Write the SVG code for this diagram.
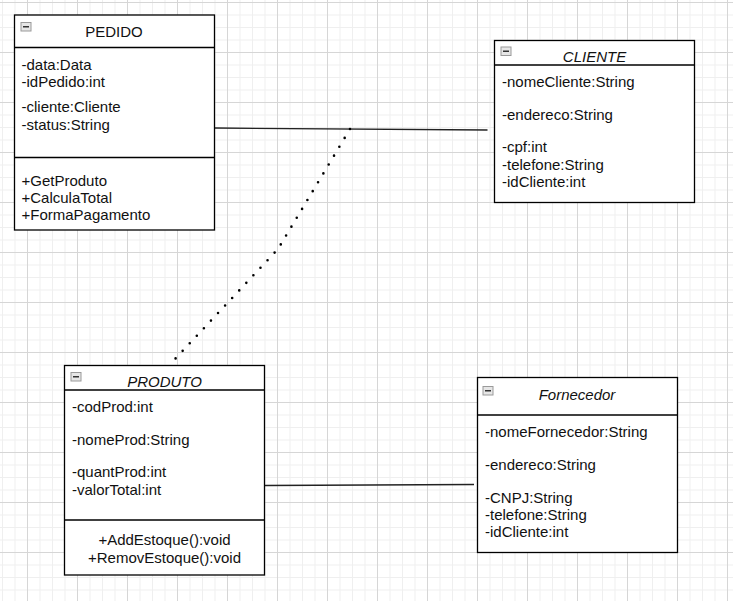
<svg xmlns="http://www.w3.org/2000/svg" width="733" height="601" viewBox="0 0 733 601">
<style>
.box{fill:#fff;stroke:#000;stroke-width:1.3}
.sep{stroke:#000;stroke-width:1.3}
.t{font-family:"Liberation Sans",Arial,sans-serif;font-size:15px;fill:#111}
.it{font-style:italic}
.mid{text-anchor:middle}
.icon{fill:#e6e6e6;stroke:#9a9a9a;stroke-width:1}
.minus{stroke:#333;stroke-width:1.5}
.conn{fill:none;stroke:#222;stroke-width:1.3}
.dot{fill:none;stroke:#000;stroke-width:2.6;stroke-linecap:round;stroke-dasharray:0 10.35}
</style>
<defs>
<pattern id="grid" x="27" y="2" width="50" height="50" patternUnits="userSpaceOnUse">
<path d="M13 0V50M25.5 0V50M38 0V50M0 13H50M0 25.5H50M0 38H50" stroke="#efefef" stroke-width="1" fill="none"/>
<path d="M0.5 0V50M0 0.5H50" stroke="#d6d6d6" stroke-width="1" fill="none"/>
</pattern>
<g id="ic"><rect class="icon" x="0.5" y="0.5" width="10" height="8.5"/><line class="minus" x1="2.5" y1="4.75" x2="8.5" y2="4.75"/></g>
</defs>
<rect width="733" height="601" fill="#fff"/>
<rect width="733" height="601" fill="url(#grid)"/>

<g id="connectors">
<path class="conn" d="M214.5 128L487.5 130"/>
<path class="dot" d="M350 129L278 249L175.5 358.5"/>
<path class="conn" d="M264.5 485.5L474 484.5"/>
</g>

<g id="pedido">
<rect class="box" x="14.5" y="15" width="200" height="215"/>
<line class="sep" x1="14.5" y1="47.5" x2="214.5" y2="47.5"/>
<line class="sep" x1="14.5" y1="157.5" x2="214.5" y2="157.5"/>
<use href="#ic" x="20.5" y="22"/>
<text class="t mid" x="114" y="36.5">PEDIDO</text>
<text class="t" x="21.5" y="69.5">-data:Data</text>
<text class="t" x="21.5" y="86.5">-idPedido:int</text>
<text class="t" x="21.5" y="111.5">-cliente:Cliente</text>
<text class="t" x="21.5" y="130">-status:String</text>
<text class="t" x="21.5" y="185.5">+GetProduto</text>
<text class="t" x="21.5" y="202.5">+CalculaTotal</text>
<text class="t" x="21.5" y="219.5">+FormaPagamento</text>
</g>

<g id="cliente">
<rect class="box" x="494.5" y="40.5" width="200" height="162"/>
<line class="sep" x1="494.5" y1="65" x2="694.5" y2="65"/>
<use href="#ic" x="500.5" y="46.5"/>
<text class="t it mid" x="594.5" y="61.5">CLIENTE</text>
<text class="t" x="502" y="86.5">-nomeCliente:String</text>
<text class="t" x="502" y="119.5">-endereco:String</text>
<text class="t" x="502" y="151.5">-cpf:int</text>
<text class="t" x="502" y="169.5">-telefone:String</text>
<text class="t" x="502" y="187">-idCliente:int</text>
</g>

<g id="produto">
<rect class="box" x="64.5" y="365.5" width="200" height="209.5"/>
<line class="sep" x1="64.5" y1="390" x2="264.5" y2="390"/>
<line class="sep" x1="64.5" y1="520" x2="264.5" y2="520"/>
<use href="#ic" x="70.5" y="372"/>
<text class="t it mid" x="164.5" y="387">PRODUTO</text>
<text class="t" x="72" y="412">-codProd:int</text>
<text class="t" x="72" y="445">-nomeProd:String</text>
<text class="t" x="72" y="476.5">-quantProd:int</text>
<text class="t" x="72" y="494.5">-valorTotal:int</text>
<text class="t mid" x="164.5" y="545">+AddEstoque():void</text>
<text class="t mid" x="164.5" y="563">+RemovEstoque():void</text>
</g>

<g id="fornecedor">
<rect class="box" x="477.5" y="377.5" width="200" height="175"/>
<line class="sep" x1="477.5" y1="415" x2="677.5" y2="415"/>
<use href="#ic" x="482.5" y="386"/>
<text class="t it mid" x="577" y="400">Fornecedor</text>
<text class="t" x="485" y="437">-nomeFornecedor:String</text>
<text class="t" x="485" y="470">-endereco:String</text>
<text class="t" x="485" y="502.5">-CNPJ:String</text>
<text class="t" x="485" y="520">-telefone:String</text>
<text class="t" x="485" y="537">-idCliente:int</text>
</g>
</svg>
